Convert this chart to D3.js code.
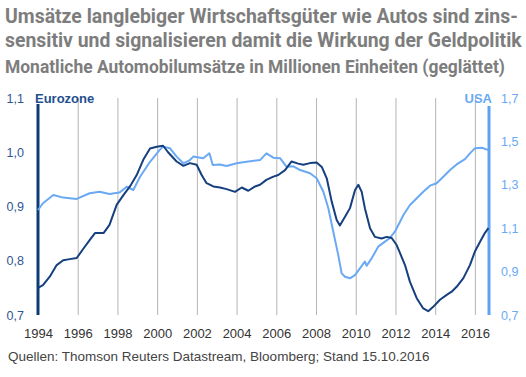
<!DOCTYPE html>
<html>
<head>
  <meta charset="UTF-8">
  <title>Automobilumsätze Eurozone vs. USA</title>
  <script src="https://d3js.org/d3.v7.min.js"></script>
  <style>
    body { margin: 0; background: #ffffff; }
    svg { display: block; font-family: "Liberation Sans", Arial, sans-serif; }
    .title { font-family: "Liberation Sans Narrow", "Roboto", "Liberation Sans", sans-serif; font-weight: bold; fill: #7d7d7d; }
    .grid line { stroke: #b4b4b4; stroke-width: 1px; }
    .grid path { display: none; }
    .axis path { display: none; }
    .axis line { display: none; }
    .line { fill: none; stroke-width: 2px; stroke-linejoin: round; }
  </style>
</head>
<body>
  <div id="chart"></div>
  <script>
    // Eurozone (linke Achse)
    const euroYears = [1994.0, 1994.25, 1994.6, 1994.94, 1995.27, 1995.6, 1995.95, 1996.3, 1996.6, 1996.87,
      1997.3, 1997.6, 1997.96, 1998.3, 1998.63, 1998.97, 1999.3, 1999.64, 1999.98, 2000.3,
      2000.55, 2000.98, 2001.32, 2001.65, 2001.99, 2002.24, 2002.49, 2002.83, 2003.16, 2003.5,
      2003.92, 2004.26, 2004.59, 2004.93, 2005.18, 2005.5, 2005.85, 2006.1, 2006.44, 2006.77,
      2007.1, 2007.36, 2007.7, 2008.03, 2008.29, 2008.54, 2008.79, 2009.04, 2009.2, 2009.46,
      2009.71, 2009.96, 2010.13, 2010.3, 2010.46, 2010.72, 2010.97, 2011.3, 2011.56, 2011.81,
      2012.06, 2012.23, 2012.48, 2012.73, 2013.07, 2013.4, 2013.65, 2013.9, 2014.24, 2014.58,
      2014.83, 2015.08, 2015.42, 2015.75, 2016.0, 2016.26, 2016.5, 2016.68];
    const euroValues = [0.750, 0.755, 0.771, 0.792, 0.801, 0.803, 0.805, 0.823, 0.838, 0.851,
      0.851, 0.866, 0.903, 0.921, 0.937, 0.958, 0.986, 1.007, 1.010, 1.012,
      1.000, 0.983, 0.975, 0.980, 0.977, 0.958, 0.943, 0.937, 0.935, 0.932,
      0.927, 0.935, 0.929, 0.937, 0.940, 0.949, 0.955, 0.958, 0.967, 0.983,
      0.979, 0.977, 0.980, 0.981, 0.973, 0.952, 0.909, 0.875, 0.865, 0.881,
      0.897, 0.930, 0.940, 0.927, 0.897, 0.860, 0.844, 0.841, 0.844, 0.842,
      0.829, 0.814, 0.792, 0.761, 0.731, 0.712, 0.707, 0.715, 0.728, 0.737,
      0.743, 0.752, 0.768, 0.792, 0.817, 0.835, 0.851, 0.860];

    // USA (rechte Achse)
    const usaYears = [1994.0, 1994.25, 1994.77, 1995.27, 1995.95, 1996.6, 1997.1, 1997.6, 1998.1, 1998.47,
      1998.8, 1999.14, 1999.64, 2000.14, 2000.3, 2000.65, 2000.98, 2001.32, 2001.65, 2001.82,
      2002.32, 2002.63, 2002.8, 2003.16, 2003.5, 2004.0, 2004.5, 2005.18, 2005.5, 2005.85,
      2006.2, 2006.52, 2006.86, 2007.2, 2007.7, 2008.03, 2008.37, 2008.62, 2008.87, 2009.12,
      2009.29, 2009.46, 2009.71, 2009.96, 2010.21, 2010.46, 2010.55, 2010.8, 2011.13, 2011.47,
      2011.72, 2011.97, 2012.23, 2012.4, 2012.73, 2013.07, 2013.4, 2013.74, 2014.07, 2014.41,
      2014.75, 2015.08, 2015.5, 2015.75, 2016.0, 2016.35, 2016.68];
    const usaValues = [1.184, 1.215, 1.253, 1.241, 1.235, 1.261, 1.268, 1.258, 1.264, 1.291,
      1.276, 1.337, 1.406, 1.462, 1.476, 1.468, 1.430, 1.399, 1.414, 1.430,
      1.422, 1.445, 1.391, 1.394, 1.387, 1.399, 1.406, 1.414, 1.445, 1.425,
      1.422, 1.383, 1.385, 1.368, 1.353, 1.330, 1.268, 1.192, 1.084, 0.976,
      0.892, 0.876, 0.869, 0.884, 0.915, 0.946, 0.927, 0.961, 1.015, 1.038,
      1.055, 1.084, 1.130, 1.161, 1.207, 1.238, 1.268, 1.296, 1.307, 1.337,
      1.368, 1.394, 1.418, 1.445, 1.468, 1.471, 1.460];

    const yearTicks = [1994, 1996, 1998, 2000, 2002, 2004, 2006, 2008, 2010, 2012, 2014, 2016];
    const leftTicks = [0.7, 0.8, 0.9, 1.0, 1.1];
    const rightTicks = [0.7, 0.9, 1.1, 1.3, 1.5, 1.7];

    const titleLines = [
      "Umsätze langlebiger Wirtschaftsgüter wie Autos sind zins-",
      "sensitiv und signalisieren damit die Wirkung der Geldpolitik"
    ];
    const subtitle = "Monatliche Automobilumsätze in Millionen Einheiten (geglättet)";
    const source = "Quellen: Thomson Reuters Datastream, Bloomberg; Stand 15.10.2016";

    const width = 526, height = 377;
    const plot = {left: 38, right: 489, top: 98, bottom: 315};

    const euroColor = "#163f7e";
    const usaColor = "#6aa9f4";

    const svg = d3.select("#chart").append("svg")
        .attr("width", width)
        .attr("height", height);

    const x = d3.scaleLinear().domain([1994, 2016.71]).range([plot.left, plot.right]);
    const yL = d3.scaleLinear().domain([0.7, 1.1]).range([plot.bottom, plot.top]);
    const yR = d3.scaleLinear().domain([0.7, 1.7]).range([plot.bottom, plot.top]);

    const fmt = d => d3.format(".1f")(d).replace(".", ",");

    // Titel: horizontal gestaucht, damit die Breite wie im Original passt
    function titleText(str, y, size, targetWidth) {
      const t = svg.append("text").attr("class", "title")
          .attr("font-size", size)
          .text(str);
      const w = t.node().getComputedTextLength();
      const sx = Math.min(1, targetWidth / w);
      t.attr("transform", `translate(5,${y}) scale(${sx},1)`);
    }
    titleText(titleLines[0], 23, 20, 513);
    titleText(titleLines[1], 47, 20, 517);
    titleText(subtitle, 73, 18, 500);

    // vertikale Gitterlinien
    svg.append("g")
        .attr("class", "grid")
        .attr("transform", `translate(0,${plot.bottom})`)
        .call(d3.axisBottom(x).tickValues(yearTicks.slice(1)).tickSize(-(plot.bottom - plot.top)).tickFormat(""));

    // x-Achse Beschriftung
    svg.append("g")
        .attr("class", "axis")
        .attr("transform", `translate(0,${plot.bottom})`)
        .call(d3.axisBottom(x).tickValues(yearTicks).tickFormat(d3.format("d")).tickSize(0).tickPadding(14))
        .selectAll("text")
        .attr("font-size", 13)
        .attr("fill", "#333333");

    // linke Achse
    svg.append("g")
        .attr("class", "axis")
        .attr("transform", `translate(${plot.left},0)`)
        .call(d3.axisLeft(yL).tickValues(leftTicks).tickFormat(fmt).tickSize(0).tickPadding(14))
        .selectAll("text")
        .attr("font-size", 12.5)
        .attr("fill", "#2f5591");

    // rechte Achse
    svg.append("g")
        .attr("class", "axis")
        .attr("transform", `translate(${plot.right},0)`)
        .call(d3.axisRight(yR).tickValues(rightTicks).tickFormat(fmt).tickSize(0).tickPadding(12))
        .selectAll("text")
        .attr("font-size", 12.5)
        .attr("fill", usaColor);

    // Achsenlinien
    svg.append("line")
        .attr("x1", plot.left).attr("x2", plot.left)
        .attr("y1", plot.top + 6).attr("y2", plot.bottom)
        .attr("stroke", "#0d3a78").attr("stroke-width", 3);
    svg.append("line")
        .attr("x1", plot.right).attr("x2", plot.right)
        .attr("y1", plot.top + 8).attr("y2", plot.bottom)
        .attr("stroke", "#5ea3f2").attr("stroke-width", 3);

    // Linien
    const euroLine = d3.line()
        .x((d, i) => x(euroYears[i]))
        .y(d => yL(d));
    const usaLine = d3.line()
        .x((d, i) => x(usaYears[i]))
        .y(d => yR(d));

    svg.append("path")
        .attr("class", "line")
        .attr("stroke", usaColor)
        .attr("d", usaLine(usaValues));
    svg.append("path")
        .attr("class", "line")
        .attr("stroke", euroColor)
        .attr("d", euroLine(euroValues));

    // Serienbeschriftungen
    svg.append("text")
        .attr("x", 35).attr("y", 103)
        .attr("font-size", 13).attr("font-weight", "bold")
        .attr("fill", "#1f4f8f")
        .text("Eurozone");
    svg.append("text")
        .attr("x", 492).attr("y", 103)
        .attr("text-anchor", "end")
        .attr("font-size", 13).attr("font-weight", "bold")
        .attr("fill", usaColor)
        .text("USA");

    // Quelle
    svg.append("text")
        .attr("x", 8).attr("y", 361)
        .attr("font-size", 13.5)
        .attr("fill", "#444444")
        .text(source);
  </script>
</body>
</html>
